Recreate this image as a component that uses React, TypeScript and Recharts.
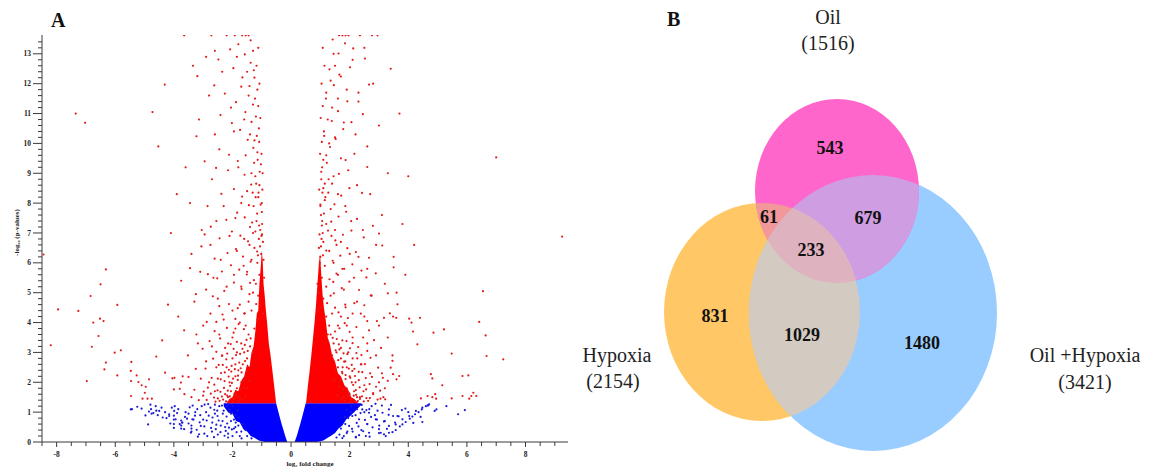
import React from 'react';
import { ComposedChart, ScatterChart, Scatter, Area, XAxis, YAxis } from 'recharts';

type P = [number, number];
type Band = [number, number, number]; // [log2FC, low, high]

// ---------- Panel A: volcano plot ----------
const SIG = 1.3; // -log10(0.05)
const xMajor = [-8, -6, -4, -2, 0, 2, 4, 6, 8];
const yMajor = [0, 1, 2, 3, 4, 5, 6, 7, 8, 9, 10, 11, 12, 13];
const X_DOMAIN: [number, number] = [-8.5, 9.45];
const Y_DOMAIN: [number, number] = [0, 13.63];
const X_MINOR_STEP = 0.5;
const Y_MINOR_STEP = 0.2;

// dense cores of the cloud (range of -log10 p per fold change)
const blueCoreLeft: Band[] = [
  [-2.3, 1.2, SIG], [-2.15, 1.0, SIG], [-2.0, 0.95, SIG], [-1.88, 0.7, SIG], [-1.75, 0.65, SIG],
  [-1.62, 0.42, SIG], [-1.5, 0.35, SIG], [-1.38, 0.2, SIG], [-1.25, 0.14, SIG], [-1.1, 0.05, SIG],
  [-0.9, 0, SIG], [-0.51, 0, SIG], [-0.43, 0, 1.0], [-0.34, 0, 0.66], [-0.2, 0, 0.2], [-0.13, 0, 0],
];
const blueCoreRight: Band[] = [
  [0.12, 0, 0], [0.2, 0, 0.22], [0.33, 0, 0.66], [0.42, 0, 1.0], [0.5, 0, SIG], [0.9, 0, SIG],
  [1.1, 0.05, SIG], [1.25, 0.14, SIG], [1.38, 0.22, SIG], [1.5, 0.3, SIG], [1.62, 0.45, SIG],
  [1.75, 0.55, SIG], [1.88, 0.75, SIG], [2.0, 0.85, SIG], [2.15, 1.0, SIG], [2.3, 1.15, SIG], [2.4, 1.25, SIG],
];
const redCoreLeft: Band[] = [
  [-2.2, SIG, SIG], [-2.1, SIG, 1.45], [-2.0, SIG, 1.5], [-1.9, SIG, 1.75], [-1.8, SIG, 1.7],
  [-1.7, SIG, 2.05], [-1.6, SIG, 2.2], [-1.5, SIG, 2.6], [-1.42, SIG, 2.5], [-1.35, SIG, 3.0],
  [-1.28, SIG, 3.2], [-1.22, SIG, 3.7], [-1.17, SIG, 4.3], [-1.12, SIG, 4.4], [-1.08, SIG, 5.3],
  [-1.04, SIG, 5.8], [-1.0, SIG, 6.4], [-0.97, SIG, 6.1], [-0.94, SIG, 5.3], [-0.9, SIG, 4.9],
  [-0.86, SIG, 4.4], [-0.82, SIG, 4.0], [-0.76, SIG, 3.3], [-0.7, SIG, 2.9], [-0.64, SIG, 2.4],
  [-0.58, SIG, 1.9], [-0.51, SIG, SIG],
];
const redCoreRight: Band[] = [
  [0.51, SIG, SIG], [0.57, SIG, 1.85], [0.63, SIG, 2.35], [0.69, SIG, 2.9], [0.75, SIG, 3.5],
  [0.8, SIG, 4.0], [0.85, SIG, 4.6], [0.9, SIG, 5.3], [0.95, SIG, 6.0], [0.99, SIG, 6.3], [1.03, SIG, 5.6],
  [1.07, SIG, 5.0], [1.12, SIG, 4.5], [1.18, SIG, 4.1], [1.25, SIG, 3.5], [1.32, SIG, 3.3], [1.4, SIG, 2.9],
  [1.5, SIG, 2.7], [1.6, SIG, 2.3], [1.7, SIG, 2.2], [1.82, SIG, 1.9], [1.95, SIG, 1.75], [2.05, SIG, 1.5],
  [2.15, SIG, 1.45], [2.3, SIG, SIG],
];

// individual genes, down-regulated side
const redLeft: P[] = [
  [-7.35, 11.0], [-7.03, 10.69], [-4.73, 11.05], [-4.53, 9.9], [-4.31, 11.97], [-3.65, 13.62], [-3.2, 12.25],
  [-3.23, 10.24], [-3.14, 10.8], [-8.45, 6.28], [-6.32, 5.78], [-6.5, 5.28], [-6.84, 4.89], [-7.95, 4.44],
  [-7.26, 4.39], [-5.93, 4.59], [-6.75, 4.0], [-6.52, 4.13], [-6.4, 4.05], [-6.57, 3.55], [-8.2, 3.24],
  [-6.8, 3.19], [-6.02, 2.99], [-5.81, 3.07], [-6.32, 2.66], [-6.37, 2.43], [-6.97, 2.04], [-5.93, 2.23],
  [-5.45, 2.68], [-5.47, 2.38], [-5.27, 2.23], [-5.46, 2.04], [-5.21, 2.01], [-5.1, 1.9], [-4.96, 1.85],
  [-4.85, 2.1], [-5.46, 1.54], [-4.99, 1.65], [-5.07, 1.45], [-4.9, 1.45], [-4.75, 1.45], [-4.6, 2.86],
  [-4.3, 2.32], [-4.05, 2.13], [-3.98, 2.15], [-3.76, 1.99], [-3.65, 3.74], [-3.52, 2.9], [-4.0, 1.76],
  [-3.8, 1.78], [-3.7, 2.2], [-3.64, 1.6], [-3.5, 2.18], [-3.4, 1.5], [-3.23, 3.6], [-3.18, 3.3],
  [-3.25, 2.45], [-3.3, 1.75],
  [-2.9, 12.9], [-2.8, 11.6], [-2.95, 9.4], [-2.7, 8.8], [-2.6, 10.3], [-2.85, 7.9], [-3.05, 7.1],
  [-2.75, 6.6], [-2.55, 7.4], [-3.4, 6.3], [-3.1, 5.7], [-2.65, 5.5], [-2.9, 5.1], [-3.3, 4.7], [-2.5, 4.8],
  [-2.75, 4.3], [-3.0, 3.9], [-2.45, 3.6], [-2.7, 3.2], [-2.9, 2.7], [-2.55, 2.5], [-2.35, 2.9], [-2.8, 2.0],
  [-2.6, 1.7], [-2.4, 2.1], [-2.25, 1.6], [-3.0, 1.55], [-2.2, 2.5], [-2.15, 3.3], [-2.3, 4.1], [-2.2, 5.2],
  [-2.4, 6.1], [-2.1, 6.9], [-2.3, 7.9], [-2.15, 9.1], [-2.45, 9.8], [-2.05, 11.2], [-2.35, 12.4],
  [-2.2, 13.62], [-3.9, 8.3], [-3.6, 9.2], [-4.1, 7.0], [-3.75, 5.4], [-4.2, 4.6], [-3.85, 4.2], [-4.4, 3.4],
  [-3.45, 8.0], [-3.35, 12.6], [-2.6, 13.1],
  // upper streak
  [-1.05, 4.6], [-1.12, 4.9], [-0.98, 5.1], [-1.2, 5.3], [-1.08, 5.6], [-1.3, 5.0], [-1.45, 4.7], [-1.6, 4.3],
  [-1.75, 4.0], [-1.9, 3.8], [-1.15, 6.0], [-1.02, 6.3], [-1.25, 6.5], [-1.1, 6.8], [-1.35, 6.1], [-1.5, 5.7],
  [-1.7, 5.2], [-1.85, 6.4], [-1.05, 7.1], [-1.18, 7.4], [-1.0, 7.7], [-1.28, 7.9], [-1.12, 8.2], [-1.4, 7.2],
  [-1.6, 6.8], [-1.08, 8.6], [-1.22, 8.9], [-1.03, 9.3], [-1.35, 9.0], [-1.15, 9.7], [-1.5, 8.4], [-1.7, 8.0],
  [-1.9, 7.5], [-1.25, 10.1], [-1.1, 10.5], [-1.4, 10.3], [-1.2, 10.9], [-1.55, 9.6], [-1.8, 9.2], [-1.3, 11.3],
  [-1.15, 11.8], [-1.45, 11.6], [-1.6, 10.8], [-1.25, 12.2], [-1.38, 12.7], [-1.5, 12.4], [-1.7, 11.9],
  [-1.3, 13.1], [-1.55, 13.62], [-1.67, 13.62], [-1.45, 13.62], [-1.85, 12.9], [-1.95, 10.4], [-1.75, 4.6],
  [-1.55, 3.9], [-1.35, 4.4], [-1.95, 5.6], [-2.0, 4.4], [-1.62, 5.9], [-1.42, 6.6], [-1.3, 7.0], [-0.95, 4.3],
  [-0.92, 5.5], [-0.96, 6.7], [-1.0, 8.0], [-0.97, 9.0], [-0.94, 6.1], [-1.01, 6.9], [-0.99, 7.3],
  [-1.06, 6.55], [-1.13, 6.25], [-0.99, 6.95], [-1.09, 7.25], [-1.16, 7.65], [-1.04, 7.95], [-1.11, 8.35],
  [-0.98, 8.45], [-1.19, 8.65], [-1.07, 9.05], [-1.14, 9.45], [-1.01, 9.65], [-1.09, 10.05], [-1.17, 10.25],
  [-1.05, 10.85], [-1.12, 11.25], [-1.23, 11.5], [-1.08, 12.0], [-1.18, 12.6], [-1.12, 13.2], [-1.26, 9.35],
  [-1.21, 8.2], [-1.31, 8.35],
  // around the dense core
  [-1.75, 1.5], [-1.85, 1.8], [-1.95, 1.45], [-2.05, 1.7], [-1.7, 2.0], [-1.8, 2.4], [-1.9, 2.2], [-2.0, 2.8],
  [-1.65, 2.6], [-1.55, 2.2], [-1.6, 3.0], [-1.7, 3.3], [-1.5, 2.8], [-1.4, 3.2], [-1.45, 3.6], [-1.3, 3.0],
  [-1.25, 3.8], [-1.2, 3.5], [-1.15, 4.1], [-2.1, 2.0], [-2.15, 1.5], [-1.85, 3.0], [-2.0, 3.5], [-1.5, 1.8],
  [-1.9, 2.6], [-1.35, 2.6],
  [-2.22, 1.36], [-2.36, 1.52], [-2.5, 1.46], [-2.41, 1.68], [-2.29, 1.81], [-2.16, 1.72], [-2.02, 1.98],
  [-2.13, 2.19], [-2.26, 2.33], [-2.5, 2.12], [-2.62, 1.92], [-2.74, 1.62], [-2.88, 1.41], [-2.04, 2.36],
  [-1.92, 2.44], [-1.81, 2.22], [-1.69, 2.33], [-1.63, 2.04], [-1.74, 1.76], [-1.88, 1.55], [-1.98, 1.33],
  [-1.79, 1.36], [-2.09, 1.53], [-2.33, 2.58], [-2.18, 2.96], [-1.96, 3.12], [-1.74, 2.95], [-1.58, 3.25],
  [-1.48, 3.05], [-1.38, 3.47],
  // flanks, y 1.3 - 4
  [-2.32, 1.42], [-2.18, 1.55], [-2.44, 1.38], [-2.08, 1.88], [-2.27, 2.04], [-2.51, 1.73], [-2.63, 1.49],
  [-2.39, 2.31], [-2.12, 2.42], [-1.98, 2.12], [-2.21, 2.77], [-2.47, 2.58], [-2.71, 2.15], [-2.84, 1.82],
  [-2.58, 1.35], [-1.93, 1.62], [-1.82, 2.08], [-1.77, 2.66], [-1.68, 1.41], [-1.61, 1.83], [-1.88, 2.91],
  [-2.03, 2.55], [-2.36, 2.88], [-2.55, 3.02], [-2.92, 2.46], [-3.08, 2.12], [-2.98, 1.69], [-3.15, 1.4],
  [-2.66, 2.79], [-2.14, 1.34], [-1.72, 2.47], [-1.57, 2.71], [-1.49, 2.38], [-1.43, 2.05], [-1.55, 1.52],
  [-2.25, 3.15], [-2.06, 3.28], [-1.85, 3.35], [-1.66, 3.12], [-1.52, 3.42], [-2.42, 3.47], [-2.78, 3.38],
  [-3.02, 3.12], [-2.61, 3.71], [-2.19, 3.82], [-1.96, 3.66], [-1.79, 3.95], [-1.61, 3.78], [-2.88, 4.02],
  [-2.34, 4.27],
  // flanks, y 4 - 8
  [-1.58, 4.31], [-1.82, 4.48], [-2.12, 4.62], [-2.45, 4.55], [-2.67, 4.88], [-1.42, 4.95], [-1.69, 5.12],
  [-1.95, 5.34], [-2.28, 5.06], [-2.52, 5.48], [-1.51, 5.61], [-1.77, 5.77], [-2.05, 5.92], [-2.36, 5.71],
  [-2.84, 5.62], [-1.38, 6.04], [-1.64, 6.21], [-1.88, 6.46], [-2.17, 6.33], [-2.61, 6.14], [-1.47, 6.72],
  [-1.73, 6.91], [-2.02, 7.05], [-2.44, 6.82], [-1.33, 7.35], [-1.58, 7.52], [-1.84, 7.68], [-2.21, 7.44],
  [-2.74, 7.21], [-3.06, 6.55], [-1.19, 4.62], [-1.27, 5.42], [-1.16, 6.38], [-1.22, 7.05], [-1.4, 5.33],
  [-1.9, 4.12], [-2.55, 4.02], [-3.25, 4.95], [-3.45, 5.82], [-2.95, 6.95],
  // flanks, y 8 and above
  [-1.44, 7.93], [-1.67, 8.22], [-1.95, 8.47], [-2.38, 8.31], [-1.36, 8.62], [-1.59, 8.95], [-1.82, 9.41],
  [-2.12, 9.62], [-2.56, 9.18], [-1.29, 9.85], [-1.48, 10.12], [-1.74, 10.45], [-2.02, 10.68], [-2.41, 10.95],
  [-1.35, 10.72], [-1.56, 11.05], [-1.88, 11.38], [-2.26, 11.67], [-2.62, 11.94], [-1.42, 11.92],
  [-1.66, 12.21], [-1.97, 12.52], [-2.48, 12.81], [-1.27, 12.45], [-1.58, 12.98], [-1.8, 13.32],
  [-2.08, 13.15], [-1.38, 13.45], [-2.72, 13.62], [-1.92, 13.62],
];

// individual genes, up-regulated side
const redRight: P[] = [
  [1.0, 4.5], [1.1, 4.8], [0.95, 5.0], [1.2, 5.2], [1.05, 5.5], [1.35, 4.9], [1.5, 4.5], [1.7, 4.2], [1.9, 3.9],
  [2.1, 4.3], [1.15, 5.9], [1.0, 6.2], [1.3, 6.4], [1.1, 6.7], [1.45, 6.0], [1.6, 5.6], [1.8, 5.1], [2.0, 6.3],
  [1.08, 7.0], [1.2, 7.3], [1.02, 7.6], [1.35, 7.8], [1.15, 8.1], [1.5, 7.1], [1.7, 6.7], [1.1, 8.5], [1.28, 8.8],
  [1.06, 9.2], [1.45, 8.9], [1.2, 9.6], [1.6, 8.3], [1.85, 7.9], [2.05, 7.4], [1.3, 10.0], [1.12, 10.4],
  [1.5, 10.2], [1.25, 10.8], [1.7, 9.5], [1.95, 9.1], [1.4, 11.2], [1.2, 11.7], [1.6, 11.5], [1.8, 10.7],
  [1.35, 12.1], [1.5, 12.6], [1.65, 12.3], [1.9, 11.8], [1.45, 13.0], [1.64, 13.62], [1.75, 13.62],
  [1.86, 13.62], [2.1, 12.8], [2.2, 10.3], [1.85, 4.6], [1.6, 3.9], [1.4, 4.3], [2.15, 5.5], [2.25, 4.7],
  [1.75, 5.8], [1.55, 6.6], [1.38, 6.9], [0.92, 4.4], [0.9, 5.3], [0.95, 6.5], [1.0, 7.9], [1.03, 8.8],
  [2.3, 6.2], [2.25, 8.6], [2.3, 11.4], [0.98, 6.0], [1.04, 6.8], [1.06, 7.4],
  [1.02, 6.55], [1.09, 6.25], [0.97, 6.95], [1.05, 7.25], [1.12, 7.65], [1.0, 7.95], [1.07, 8.35], [0.96, 8.45],
  [1.15, 8.65], [1.03, 9.05], [1.1, 9.45], [0.99, 9.65], [1.05, 10.05], [1.13, 10.25], [1.01, 10.85],
  [1.08, 11.25], [1.19, 11.5], [1.04, 12.0], [1.14, 12.6], [1.08, 13.2], [1.22, 9.35], [1.17, 8.2], [1.27, 8.35],
  [2.5, 13.2], [2.8, 12.0], [3.0, 10.6], [2.6, 9.9], [3.3, 9.0], [2.7, 8.3], [3.1, 7.6], [2.45, 7.1], [2.9, 6.6],
  [3.5, 6.2], [2.6, 5.8], [3.2, 5.3], [2.75, 4.9], [3.6, 5.0], [2.5, 4.2], [3.0, 3.9], [3.3, 3.5], [2.6, 3.3],
  [2.9, 2.9], [2.4, 2.6], [2.7, 2.3], [3.0, 2.0], [2.5, 1.9], [2.8, 1.6], [3.15, 1.5], [2.35, 1.5], [3.8, 7.3],
  [4.0, 8.9], [3.7, 11.0], [3.9, 5.6], [4.2, 6.6], [3.4, 12.5], [2.35, 13.62], [2.95, 13.62],
  [3.63, 4.61], [3.37, 4.31], [3.17, 4.16], [3.48, 4.2], [3.59, 4.16], [4.03, 4.13], [4.11, 4.0], [4.4, 4.16],
  [4.16, 3.7], [4.86, 3.66], [5.22, 3.77], [6.42, 4.02], [6.64, 3.57], [4.31, 3.27], [5.48, 2.96], [6.67, 2.88],
  [7.24, 2.77], [3.46, 2.9], [3.46, 2.72], [3.4, 2.49], [3.48, 2.27], [4.77, 2.27], [4.82, 2.13], [3.69, 2.21],
  [3.6, 2.1], [5.85, 2.21], [6.05, 2.23], [5.16, 1.9], [4.43, 1.46], [4.66, 1.54], [4.82, 1.5], [4.92, 1.6],
  [4.95, 1.45], [5.48, 1.46], [5.85, 1.54], [6.22, 1.65], [6.08, 1.45], [6.15, 1.54], [6.32, 1.54], [3.1, 2.3],
  [3.2, 1.8], [3.05, 1.45], [3.3, 2.05], [7.0, 9.53], [9.25, 6.88], [6.55, 5.05],
  // around the dense core
  [1.8, 1.5], [1.9, 1.8], [2.05, 1.45], [2.15, 1.7], [1.75, 2.3], [1.9, 2.5], [2.0, 2.2], [2.1, 2.8], [1.7, 2.8],
  [1.6, 2.5], [1.65, 3.1], [1.75, 3.4], [1.55, 3.0], [1.45, 3.3], [1.5, 3.7], [1.35, 3.6], [1.3, 3.9],
  [1.25, 3.6], [1.2, 4.2], [2.2, 2.0], [2.25, 1.5], [1.95, 3.0], [2.1, 3.5], [2.0, 1.6], [1.85, 2.7], [1.4, 2.9],
  [2.28, 1.37], [2.42, 1.53], [2.57, 1.47], [2.47, 1.7], [2.34, 1.83], [2.21, 1.74], [2.07, 2.0], [2.18, 2.21],
  [2.31, 2.35], [2.55, 2.14], [2.68, 1.94], [2.8, 1.64], [2.95, 1.42], [2.09, 2.38], [1.97, 2.46], [1.86, 2.24],
  [1.74, 2.35], [1.68, 2.06], [1.79, 1.78], [1.93, 1.57], [2.03, 1.34], [1.84, 1.38], [2.14, 1.55], [2.38, 2.6],
  [2.23, 2.98], [2.01, 3.14], [1.79, 2.97], [1.63, 3.27], [1.52, 3.07], [1.42, 3.49],
  // flanks, y 1.3 - 4
  [2.35, 1.44], [2.22, 1.58], [2.48, 1.36], [2.12, 1.91], [2.31, 2.07], [2.56, 1.76], [2.69, 1.47], [2.43, 2.34],
  [2.16, 2.45], [2.02, 2.15], [2.26, 2.8], [2.52, 2.61], [2.76, 2.18], [2.9, 1.85], [2.63, 1.38], [1.97, 1.65],
  [1.86, 2.11], [1.81, 2.69], [1.72, 1.44], [1.65, 1.86], [1.92, 2.94], [2.07, 2.58], [2.4, 2.91], [2.6, 3.05],
  [2.97, 2.49], [3.13, 2.15], [3.04, 1.72], [3.21, 1.43], [2.71, 2.82], [2.18, 1.37], [1.76, 2.5], [1.61, 2.74],
  [1.53, 2.41], [1.47, 2.08], [1.59, 1.55], [2.29, 3.18], [2.1, 3.31], [1.89, 3.38], [1.7, 3.15], [1.56, 3.45],
  [2.46, 3.5], [2.83, 3.41], [3.07, 3.15], [2.66, 3.74], [2.23, 3.85], [2.0, 3.69], [1.83, 3.98], [1.65, 3.81],
  [2.93, 4.05], [2.38, 4.3],
  // flanks, y 4 - 8
  [1.62, 4.34], [1.86, 4.51], [2.16, 4.65], [2.5, 4.58], [2.72, 4.91], [1.46, 4.98], [1.73, 5.15], [1.99, 5.37],
  [2.32, 5.09], [2.57, 5.51], [1.55, 5.64], [1.81, 5.8], [2.09, 5.95], [2.4, 5.74], [2.89, 5.65], [1.42, 6.07],
  [1.68, 6.24], [1.92, 6.49], [2.21, 6.36], [2.66, 6.17], [1.51, 6.75], [1.77, 6.94], [2.06, 7.08], [2.48, 6.85],
  [1.37, 7.38], [1.62, 7.55], [1.88, 7.71], [2.25, 7.47], [2.79, 7.24], [3.11, 6.58], [1.23, 4.65], [1.31, 5.45],
  [1.2, 6.41], [1.26, 7.08], [1.44, 5.36], [1.94, 4.15], [2.6, 4.05], [3.3, 4.98], [3.5, 5.85], [3.0, 6.98],
  // flanks, y 8 and above
  [1.48, 7.96], [1.71, 8.25], [1.99, 8.5], [2.42, 8.34], [1.4, 8.65], [1.63, 8.98], [1.86, 9.44], [2.16, 9.65],
  [2.6, 9.21], [1.33, 9.88], [1.52, 10.15], [1.78, 10.48], [2.06, 10.71], [2.45, 10.98], [1.39, 10.75],
  [1.6, 11.08], [1.92, 11.41], [2.3, 11.7], [2.66, 11.97], [1.46, 11.95], [1.7, 12.24], [2.01, 12.55],
  [2.52, 12.84], [1.31, 12.48], [1.62, 13.01], [1.84, 13.35], [2.12, 13.18], [1.42, 13.48], [2.76, 13.62],
  [1.96, 13.62],
];

const blueLeft: P[] = [
  [-5.47, 1.09], [-5.43, 1.1], [-5.1, 1.12], [-4.97, 0.89], [-4.88, 0.59], [-4.8, 1.25], [-4.78, 1.1],
  [-4.76, 0.95], [-4.7, 0.97], [-4.6, 1.05], [-4.55, 0.9], [-4.42, 1.15], [-4.3, 1.0], [-4.25, 0.8],
  [-4.16, 0.93], [-4.07, 1.15], [-4.0, 0.88], [-4.0, 0.75], [-4.0, 0.6], [-4.0, 0.47], [-3.97, 1.2],
  [-3.89, 0.97], [-3.8, 0.6], [-3.72, 0.65], [-3.75, 0.45], [-3.75, 0.55], [-3.75, 0.72], [-3.6, 1.0],
  [-3.55, 0.78], [-3.46, 1.16], [-3.4, 0.35], [-3.4, 0.45], [-3.4, 0.55], [-3.33, 0.75], [-3.27, 1.0],
  [-4.5, 1.04], [-4.16, 0.87], [-3.99, 1.04], [-3.94, 0.76], [-3.71, 0.65], [-3.65, 0.43], [-3.37, 0.76],
  [-3.42, 0.31], [-3.14, 0.26], [-3.08, 0.54], [-2.86, 0.2], [-2.69, 0.65], [-2.57, 0.43], [-2.51, 0.87],
  [-2.34, 0.7], [-2.23, 0.37], [-2.12, 0.48], [-2.0, 0.2], [-1.89, 0.65], [-2.9, 1.0], [-2.75, 1.15],
  [-2.6, 0.95], [-2.45, 1.2], [-2.3, 1.05], [-2.2, 0.85], [-2.1, 1.1], [-2.05, 0.7], [-2.4, 0.55],
  [-2.7, 0.35], [-3.0, 0.75], [-3.2, 1.1], [-2.95, 1.25], [-3.1, 0.9], [-2.5, 0.25], [-2.15, 0.28],
  [-1.95, 0.45], [-1.9, 0.9], [-2.0, 1.2], [-2.6, 1.25], [-3.5, 0.95], [-2.1, 1.0], [-2.2, 1.2],
  [-1.95, 0.75], [-1.8, 0.55], [-1.7, 0.35], [-1.5, 0.2], [-1.35, 0.12], [-1.55, 0.4], [-1.9, 0.5],
  [-1.75, 0.2], [-1.65, 0.6], [-2.05, 0.95],
  [-2.33, 0.95], [-2.47, 0.72], [-2.62, 1.08], [-2.81, 0.88], [-2.96, 0.52], [-3.12, 0.66], [-3.28, 0.88],
  [-2.18, 0.62], [-2.27, 0.21], [-2.41, 0.33], [-2.55, 0.58], [-2.73, 0.47], [-2.88, 0.72], [-3.05, 1.2],
  [-3.22, 0.41], [-1.83, 1.05], [-1.98, 0.98], [-2.11, 1.26], [-2.36, 1.22], [-2.52, 1.05], [-2.68, 0.82],
  [-2.83, 1.27], [-3.36, 1.22], [-3.5, 0.62], [-3.62, 0.84], [-3.85, 1.1], [-4.12, 0.62], [-4.38, 0.82],
  [-4.62, 1.2], [-4.85, 1.02], [-5.25, 1.18], [-3.18, 0.18], [-2.96, 0.28], [-2.63, 0.16], [-1.86, 0.33],
  [-1.69, 0.12], [-2.02, 0.42], [-2.25, 0.5], [-1.78, 0.82], [-2.15, 0.15],
];

const blueRight: P[] = [
  [2.21, 0.15], [2.55, 0.2], [2.66, 0.31], [3.0, 0.43], [3.34, 0.54], [3.57, 0.59], [3.8, 0.76], [4.03, 0.87],
  [4.26, 1.04], [4.48, 1.15], [4.71, 1.26], [1.98, 0.54], [2.09, 0.87], [2.32, 0.76], [2.43, 1.09],
  [2.66, 0.98], [2.89, 0.76], [3.12, 0.98], [3.34, 1.09], [3.63, 0.87], [4.0, 1.0], [4.6, 1.2], [4.46, 1.09],
  [4.35, 1.0], [4.23, 0.93], [4.14, 0.85], [4.05, 0.78], [3.91, 0.67], [3.8, 0.59], [3.71, 0.52], [3.57, 0.4],
  [3.46, 0.33], [3.34, 0.31], [3.17, 0.26], [3.06, 0.31], [3.78, 1.07], [3.48, 0.87], [4.48, 0.67], [5.7, 0.93],
  [5.93, 1.07], [4.96, 1.09], [4.66, 1.23], [2.3, 1.2], [2.5, 1.0], [2.6, 0.6], [2.75, 1.2], [2.95, 1.05],
  [3.2, 0.7], [2.4, 0.4], [2.2, 0.9], [2.25, 1.1], [2.05, 1.2], [2.1, 0.35], [1.9, 0.3], [1.8, 0.2],
  [1.65, 0.25], [1.95, 0.8], [1.7, 0.45], [1.55, 0.15], [1.85, 0.6],
  [2.37, 0.97], [2.52, 0.74], [2.67, 1.1], [2.86, 0.9], [3.01, 0.55], [3.17, 0.69], [3.33, 0.91], [2.24, 0.64],
  [2.32, 0.23], [2.46, 0.36], [2.6, 0.6], [2.78, 0.49], [2.93, 0.75], [3.1, 1.22], [3.27, 0.44], [1.9, 1.07],
  [2.04, 1.0], [2.17, 1.27], [2.41, 1.24], [2.57, 1.07], [2.73, 0.84], [2.88, 1.28], [3.41, 1.24], [3.55, 0.65],
  [3.67, 0.86], [3.9, 1.12], [4.17, 0.64], [4.42, 0.84], [4.67, 1.22], [4.9, 1.04], [5.3, 1.2], [3.23, 0.2],
  [3.0, 0.3], [2.68, 0.18], [1.92, 0.35], [1.75, 0.13], [2.08, 0.44], [2.3, 0.52], [1.84, 0.84], [2.21, 0.17],
];

const toPts = (arr: P[]) => arr.map(([x, y]) => ({ x, y }));

// one row per band vertex; each band uses its own key
const coreRows = [
  ...blueCoreLeft.map(([x, lo, hi]) => ({ x, blueL: [lo, hi] })),
  ...blueCoreRight.map(([x, lo, hi]) => ({ x, blueR: [lo, hi] })),
  ...redCoreLeft.map(([x, lo, hi]) => ({ x, redL: [lo, hi] })),
  ...redCoreRight.map(([x, lo, hi]) => ({ x, redR: [lo, hi] })),
].sort((a, b) => a.x - b.x);

const xTicks: number[] = [];
for (let i = Math.round(X_DOMAIN[0] / X_MINOR_STEP); i * X_MINOR_STEP <= 9; i++) xTicks.push(i * X_MINOR_STEP);
const yTicks: number[] = [];
for (let i = 0; i * Y_MINOR_STEP <= 13.6; i++) yTicks.push(Math.round(i * Y_MINOR_STEP * 10) / 10);

const SERIF = '"Liberation Serif", "Times New Roman", serif';
const tickFont: React.CSSProperties = { fontFamily: SERIF, fontWeight: 700, fontSize: 7.5, fill: '#222' };
const AXIS = '#3a3a3a';

const XTick = (props: any) => {
  const { x, y, payload } = props;
  const v = payload.value;
  const major = xMajor.includes(v);
  return (
    <g>
      <line x1={x} x2={x} y1={y} y2={y + (major ? 5 : 4)} stroke={AXIS} strokeWidth={1} />
      {major && (
        <text x={x} y={y + 15} textAnchor="middle" style={tickFont}>
          {v}
        </text>
      )}
    </g>
  );
};

const YTick = (props: any) => {
  const { x, y, payload } = props;
  const v = payload.value;
  const major = yMajor.includes(v);
  return (
    <g>
      <line x1={x - (major ? 9 : 4)} x2={x} y1={y} y2={y} stroke={AXIS} strokeWidth={1} />
      {major && (
        <text x={x - 11} y={y} dy="0.35em" textAnchor="end" style={tickFont}>
          {v}
        </text>
      )}
    </g>
  );
};

const dot = (fill: string) => (p: any) =>
  p.cx == null ? <g /> : <circle cx={p.cx} cy={p.cy} r={1.1} fill={fill} />;

const XLabel = (p: any) => {
  const vb = p.viewBox;
  return (
    <text x={vb.x + vb.width / 2 + 5} y={vb.y + 24} textAnchor="middle" style={{ ...tickFont, fontSize: 7 }}>
      log₂ fold change
    </text>
  );
};
const YLabel = (p: any) => {
  const vb = p.viewBox;
  const cx = vb.x + 17;
  const cy = vb.y + vb.height / 2 - 6;
  return (
    <text x={cx} y={cy} transform={`rotate(-90, ${cx}, ${cy})`} textAnchor="middle" dy="0.35em" style={{ ...tickFont, fontSize: 7 }}>
      -log₁₀ (p-values)
    </text>
  );
};

// ---------- Panel B: Venn diagram ----------
// chart units equal pixels of the 575 x 467 panel
const VENN_W = 575;
const VENN_H = 467;
const vennSets = [
  { id: 'hyp', x: 182, y: 312, rx: 98, ry: 109, color: '#FFC766' },
  { id: 'mix', x: 293, y: 313, rx: 124, ry: 138, color: '#99CCFF' },
  { id: 'oil', x: 257, y: 191, rx: 82, ry: 92, color: '#FF66CC' },
];
const overlapColors = { oilHyp: '#F2989A', oilMix: '#CE9DE2', hypMix: '#D3CBC1', all: '#DFB2BF' };
const setById = (id: string) => vennSets.find((s) => s.id === id)!;
const vennOverlaps = [
  { ...setById('oil'), clips: ['hyp'], color: overlapColors.oilHyp },
  { ...setById('oil'), clips: ['mix'], color: overlapColors.oilMix },
  { ...setById('hyp'), clips: ['mix'], color: overlapColors.hypMix },
  { ...setById('oil'), clips: ['hyp', 'mix'], color: overlapColors.all },
];
const regionCounts = [
  { x: 250, y: 148, text: '543' },
  { x: 189, y: 217, text: '61' },
  { x: 288, y: 218, text: '679' },
  { x: 231, y: 250, text: '233' },
  { x: 135, y: 316, text: '831' },
  { x: 222, y: 335, text: '1029' },
  { x: 342, y: 343, text: '1480' },
];
const setTitles = [
  { x: 248, y: 24, text: 'Oil' },
  { x: 248, y: 50, text: '(1516)' },
  { x: 37, y: 362, text: 'Hypoxia' },
  { x: 33, y: 388, text: '(2154)' },
  { x: 505, y: 362, text: 'Oil +Hypoxia' },
  { x: 505, y: 389, text: '(3421)' },
];

const SetShape = (p: any) => {
  const { cx, cy, payload } = p;
  return (
    <g>
      <defs>
        <clipPath id={`venn-${payload.id}`}>
          <ellipse cx={cx} cy={cy} rx={payload.rx} ry={payload.ry} />
        </clipPath>
      </defs>
      <ellipse cx={cx} cy={cy} rx={payload.rx} ry={payload.ry} fill={payload.color} />
    </g>
  );
};

const OverlapShape = (p: any) => {
  const { cx, cy, payload } = p;
  let node: React.ReactNode = <ellipse cx={cx} cy={cy} rx={payload.rx} ry={payload.ry} fill={payload.color} />;
  for (const id of payload.clips as string[]) node = <g clipPath={`url(#venn-${id})`}>{node}</g>;
  return <g>{node}</g>;
};

const CountShape = (p: any) => (
  <text x={p.cx} y={p.cy} dy="0.35em" textAnchor="middle"
    style={{ fontFamily: SERIF, fontWeight: 700, fontSize: 18, fill: '#111' }}>
    {p.payload.text}
  </text>
);
const TitleShape = (p: any) => (
  <text x={p.cx} y={p.cy} textAnchor="middle" style={{ fontFamily: SERIF, fontSize: 20, fill: '#222' }}>
    {p.payload.text}
  </text>
);

const panelLetter: React.CSSProperties = {
  position: 'absolute', fontFamily: SERIF, fontWeight: 700, fontSize: 20, lineHeight: '20px', color: '#111',
};

export default function App() {
  return (
    <div style={{ position: 'absolute', left: 0, top: 0, width: 1155, height: 467, background: '#fff', overflow: 'hidden' }}>
      <div style={{ ...panelLetter, left: 51, top: 10 }}>A</div>
      <div style={{ ...panelLetter, left: 667, top: 9 }}>B</div>

      <div style={{ position: 'absolute', left: 0, top: 0 }}>
        <ComposedChart width={580} height={467} data={coreRows} margin={{ top: 35, right: 12, bottom: 0, left: 0 }}>
          <XAxis type="number" dataKey="x" domain={X_DOMAIN} allowDataOverflow ticks={xTicks} interval={0}
            tickSize={0} tickMargin={0} tick={<XTick />} height={25} stroke={AXIS} label={<XLabel />} />
          <YAxis type="number" dataKey="y" domain={Y_DOMAIN} allowDataOverflow ticks={yTicks} interval={0}
            tickSize={0} tickMargin={0} tick={<YTick />} width={42} stroke={AXIS} label={<YLabel />} />
          <Area dataKey="blueL" type="linear" stroke="none" fill="#0000ff" fillOpacity={1} connectNulls isAnimationActive={false} />
          <Area dataKey="blueR" type="linear" stroke="none" fill="#0000ff" fillOpacity={1} connectNulls isAnimationActive={false} />
          <Area dataKey="redL" type="linear" stroke="none" fill="#ff0000" fillOpacity={1} connectNulls isAnimationActive={false} />
          <Area dataKey="redR" type="linear" stroke="none" fill="#ff0000" fillOpacity={1} connectNulls isAnimationActive={false} />
          <Scatter data={toPts(blueLeft)} shape={dot('#1c1cd6')} isAnimationActive={false} />
          <Scatter data={toPts(blueRight)} shape={dot('#1c1cd6')} isAnimationActive={false} />
          <Scatter data={toPts(redLeft)} shape={dot('#e21a1a')} isAnimationActive={false} />
          <Scatter data={toPts(redRight)} shape={dot('#e21a1a')} isAnimationActive={false} />
        </ComposedChart>
      </div>

      <div style={{ position: 'absolute', left: 580, top: 0 }}>
        <ScatterChart width={VENN_W} height={VENN_H} margin={{ top: 0, right: 0, bottom: 0, left: 0 }}>
          <XAxis type="number" dataKey="x" domain={[0, VENN_W]} hide />
          <YAxis type="number" dataKey="y" domain={[0, VENN_H]} reversed hide />
          <Scatter data={vennSets} shape={SetShape} isAnimationActive={false} />
          <Scatter data={vennOverlaps} shape={OverlapShape} isAnimationActive={false} />
          <Scatter data={regionCounts} shape={CountShape} isAnimationActive={false} />
          <Scatter data={setTitles} shape={TitleShape} isAnimationActive={false} />
        </ScatterChart>
      </div>
    </div>
  );
}
